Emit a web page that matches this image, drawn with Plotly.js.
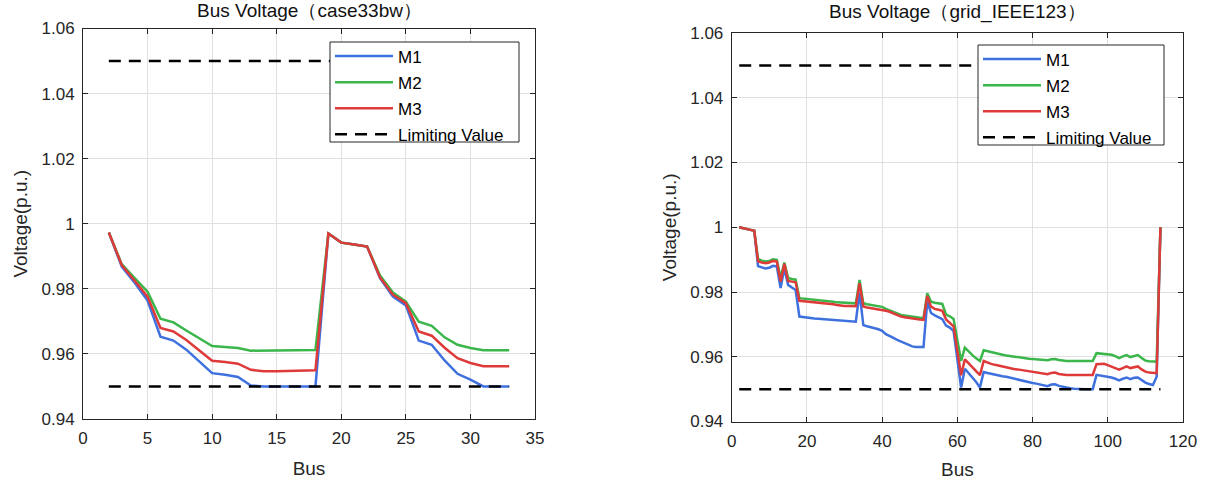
<!DOCTYPE html>
<html><head><meta charset="utf-8">
<script src="https://cdn.plot.ly/plotly-3.0.1.min.js"></script>
<style>html,body{margin:0;padding:0;background:#fff}#chart{width:1210px;height:486px}</style>
</head><body><div id="chart"></div>
<script>
// ---- case33bw ----
const busA = [2,3,4,5,6,7,8,9,10,11,12,13,14,15,16,17,18,19,20,21,22,23,24,25,26,27,28,29,30,31,32,33];
const a_M1 = [0.9973,0.9868,0.9819,0.9764,0.9653,0.9641,0.9613,0.9576,0.9541,0.9536,0.9529,0.9503,0.9500,0.9500,0.9500,0.9500,0.9500,0.9970,0.9942,0.9936,0.9930,0.9833,0.9776,0.9749,0.9641,0.9628,0.9580,0.9539,0.9521,0.9500,0.9500,0.9500];
const a_M2 = [0.9973,0.9876,0.9833,0.9791,0.9708,0.9697,0.9672,0.9647,0.9624,0.9621,0.9618,0.9610,0.9610,0.9610,0.9611,0.9612,0.9612,0.9970,0.9942,0.9936,0.9930,0.9841,0.9789,0.9761,0.9699,0.9686,0.9651,0.9628,0.9618,0.9611,0.9611,0.9611];
const a_M3 = [0.9973,0.9873,0.9825,0.9776,0.9680,0.9669,0.9643,0.9610,0.9579,0.9575,0.9570,0.9551,0.9547,0.9547,0.9548,0.9549,0.9550,0.9970,0.9942,0.9936,0.9930,0.9835,0.9782,0.9756,0.9669,0.9656,0.9619,0.9587,0.9572,0.9562,0.9562,0.9562];

// ---- grid_IEEE123 ----
const busB = [2,3,4,5,6,7,8,9,10,11,12,13,14,15,16,17,18,19,20,21,22,23,24,25,26,27,28,29,30,31,32,33,34,35,36,37,38,39,40,41,42,43,44,45,46,47,48,49,50,51,52,53,54,55,56,57,58,59,60,61,62,63,64,65,66,67,68,69,70,71,72,73,74,75,76,77,78,79,80,81,82,83,84,85,86,87,88,89,90,91,92,93,94,95,96,97,98,99,100,101,102,103,104,105,106,107,108,109,110,111,112,113,114];
const b_M1 = [1.0000,0.9998,0.9995,0.9992,0.9989,0.9880,0.9876,0.9873,0.9875,0.9881,0.9879,0.9812,0.9873,0.9822,0.9814,0.9806,0.9724,0.9722,0.9720,0.9719,0.9718,0.9717,0.9716,0.9715,0.9714,0.9712,0.9711,0.9710,0.9709,0.9709,0.9709,0.9708,0.9798,0.9698,0.9694,0.9690,0.9688,0.9685,0.9680,0.9670,0.9663,0.9658,0.9652,0.9647,0.9642,0.9637,0.9632,0.9630,0.9630,0.9630,0.9770,0.9735,0.9728,0.9722,0.9716,0.9696,0.9690,0.9679,0.9592,0.9505,0.9563,0.9550,0.9538,0.9522,0.9505,0.9553,0.9550,0.9547,0.9545,0.9542,0.9540,0.9538,0.9535,0.9532,0.9530,0.9527,0.9523,0.9521,0.9519,0.9517,0.9515,0.9512,0.9509,0.9514,0.9515,0.9510,0.9507,0.9505,0.9503,0.9501,0.9500,0.9500,0.9500,0.9500,0.9500,0.9544,0.9542,0.9541,0.9539,0.9536,0.9532,0.9527,0.9532,0.9536,0.9531,0.9535,0.9536,0.9527,0.9520,0.9516,0.9513,0.9538,1.0000];
const b_M2 = [1.0000,0.9998,0.9995,0.9992,0.9989,0.9902,0.9897,0.9894,0.9896,0.9901,0.9899,0.9843,0.9891,0.9843,0.9840,0.9838,0.9781,0.9780,0.9779,0.9778,0.9777,0.9776,0.9775,0.9774,0.9772,0.9770,0.9768,0.9767,0.9766,0.9766,0.9766,0.9765,0.9837,0.9765,0.9762,0.9760,0.9758,0.9756,0.9754,0.9748,0.9744,0.9739,0.9734,0.9729,0.9727,0.9725,0.9723,0.9722,0.9720,0.9719,0.9796,0.9770,0.9767,0.9764,0.9763,0.9730,0.9725,0.9717,0.9652,0.9587,0.9628,0.9615,0.9605,0.9595,0.9587,0.9620,0.9617,0.9613,0.9611,0.9609,0.9606,0.9604,0.9602,0.9601,0.9600,0.9598,0.9595,0.9594,0.9593,0.9592,0.9592,0.9590,0.9589,0.9592,0.9593,0.9590,0.9588,0.9587,0.9587,0.9587,0.9587,0.9587,0.9587,0.9587,0.9587,0.9611,0.9610,0.9610,0.9608,0.9606,0.9602,0.9596,0.9601,0.9605,0.9599,0.9603,0.9605,0.9596,0.9588,0.9586,0.9585,0.9585,1.0000];
const b_M3 = [1.0000,0.9998,0.9995,0.9992,0.9989,0.9895,0.9891,0.9889,0.9891,0.9896,0.9894,0.9832,0.9887,0.9834,0.9832,0.9830,0.9773,0.9772,0.9771,0.9770,0.9769,0.9768,0.9767,0.9766,0.9764,0.9762,0.9760,0.9758,0.9757,0.9757,0.9757,0.9756,0.9827,0.9755,0.9752,0.9750,0.9749,0.9748,0.9746,0.9742,0.9739,0.9734,0.9729,0.9724,0.9722,0.9720,0.9717,0.9716,0.9715,0.9714,0.9788,0.9755,0.9748,0.9745,0.9742,0.9715,0.9705,0.9694,0.9618,0.9543,0.9592,0.9580,0.9568,0.9555,0.9543,0.9587,0.9582,0.9578,0.9575,0.9572,0.9569,0.9566,0.9564,0.9562,0.9561,0.9559,0.9557,0.9555,0.9553,0.9551,0.9549,0.9548,0.9546,0.9550,0.9551,0.9547,0.9545,0.9544,0.9544,0.9544,0.9544,0.9544,0.9544,0.9544,0.9544,0.9577,0.9578,0.9578,0.9574,0.9570,0.9566,0.9560,0.9565,0.9570,0.9565,0.9568,0.9570,0.9561,0.9554,0.9551,0.9549,0.9549,1.0000];

const limLow = 0.95, limHigh = 1.05;
const seriesNames = ['M1','M2','M3','Limiting Value'];
const titles = ['Bus Voltage（case33bw）','Bus Voltage（grid_IEEE123）'];
const xTicksA = [0,5,10,15,20,25,30,35];
const xTicksB = [0,20,40,60,80,100,120];
const yTicks = [0.94,0.96,0.98,1,1.02,1.04,1.06];
const yTickText = ['0.94','0.96','0.98','1','1.02','1.04','1.06'];

const colors = ['rgb(62,112,222)','rgb(58,182,74)','rgb(222,58,58)'];
const FONT = 'Liberation Sans, Arial, sans-serif';

function mkTraces(bus, s1, s2, s3, xa, ya, leg){
  const arr = [s1,s2,s3];
  const out = arr.map((ys,i)=>({
    x: bus, y: ys, type:'scatter', mode:'lines', name: seriesNames[i],
    xaxis: xa, yaxis: ya, legend: leg, legendgroup: leg+i,
    line:{color: colors[i], width: 2.5}
  }));
  const x0 = bus[0], x1 = bus[bus.length-1];
  out.push({
    x:[x0,x1,null,x0,x1], y:[limLow,limLow,null,limHigh,limHigh],
    type:'scatter', mode:'lines', name: seriesNames[3], xaxis: xa, yaxis: ya,
    legend: leg, legendgroup: leg+'3', connectgaps:false,
    line:{color:'#000', width:2.5, dash:'12px,8px'}
  });
  return out;
}

const traces = [
  ...mkTraces(busA, a_M1, a_M2, a_M3, 'x', 'y', 'legend'),
  ...mkTraces(busB, b_M1, b_M2, b_M3, 'x2', 'y2', 'legend2')
];

const W = 1210, H = 486;
const px = v => v / W, py = v => (H - v) / H;
const axBase = {
  showgrid:true, gridcolor:'#e0e0e0', gridwidth:1,
  showline:true, linecolor:'#262626', linewidth:1, mirror:'ticks',
  ticks:'inside', ticklen:5, tickcolor:'#262626',
  zeroline:false, tickfont:{family:FONT, size:17, color:'#262626'},
  automargin:false
};
const xdomA = [px(83), px(535)], xdomB = [px(731.7), px(1183)];
const ydomA = [py(419), py(28.5)], ydomB = [py(421.5), py(33)];

const legBase = {
  bgcolor:'rgba(0,0,0,0)', borderwidth:0,
  font:{family:FONT, size:17, color:'#000'}, itemwidth:58,
  xanchor:'left', yanchor:'top', tracegroupgap:1, traceorder:'grouped'
};

// legend frames
const legBoxes = [[330,42,519,142],[978,45,1164,145]];

const layout = {
  width:W, height:H, margin:{l:0,r:0,t:0,b:0},
  paper_bgcolor:'#fff', plot_bgcolor:'#fff', showlegend:true,
  font:{family:FONT},
  xaxis: Object.assign({}, axBase, {domain:xdomA, anchor:'y', range:[0,35], tickvals:xTicksA,
    ticklabelstandoff:4,
    title:{text:'Bus', font:{family:FONT,size:19,color:'#262626'}, standoff:14}}),
  yaxis: Object.assign({}, axBase, {domain:ydomA, anchor:'x', range:[0.94,1.06], tickvals:yTicks, ticktext:yTickText,
    ticklabelstandoff:4,
    title:{text:'Voltage(p.u.)', font:{family:FONT,size:19,color:'#262626'}, standoff:8}}),
  xaxis2: Object.assign({}, axBase, {domain:xdomB, anchor:'y2', range:[0,120], tickvals:xTicksB,
    ticklabelstandoff:4,
    title:{text:'Bus', font:{family:FONT,size:19,color:'#262626'}, standoff:12}}),
  yaxis2: Object.assign({}, axBase, {domain:ydomB, anchor:'x2', range:[0.94,1.06], tickvals:yTicks, ticktext:yTickText,
    ticklabelstandoff:4,
    title:{text:'Voltage(p.u.)', font:{family:FONT,size:19,color:'#262626'}, standoff:8}}),
  legend: Object.assign({}, legBase, {x:px(330), y:py(38.5)}),
  legend2: Object.assign({}, legBase, {x:px(978), y:py(41.5)}),
  shapes: legBoxes.map(b => ({type:'rect', xref:'paper', yref:'paper', layer:'above',
    x0:px(b[0]), x1:px(b[2]), y0:py(b[3]), y1:py(b[1]),
    fillcolor:'#fff', line:{color:'#262626', width:1}})),
  annotations: [
    {text:titles[0], xref:'paper', yref:'paper', x:(xdomA[0]+xdomA[1])/2, y:py(11), xanchor:'center', yanchor:'middle',
     showarrow:false, font:{family:FONT, size:19, color:'#111', weight:'normal'}},
    {text:titles[1], xref:'paper', yref:'paper', x:(xdomB[0]+xdomB[1])/2, y:py(12), xanchor:'center', yanchor:'middle',
     showarrow:false, font:{family:FONT, size:19, color:'#111', weight:'normal'}}
  ]
};

Plotly.newPlot('chart', traces, layout, {displayModeBar:false, responsive:false});
</script>
</body></html>
